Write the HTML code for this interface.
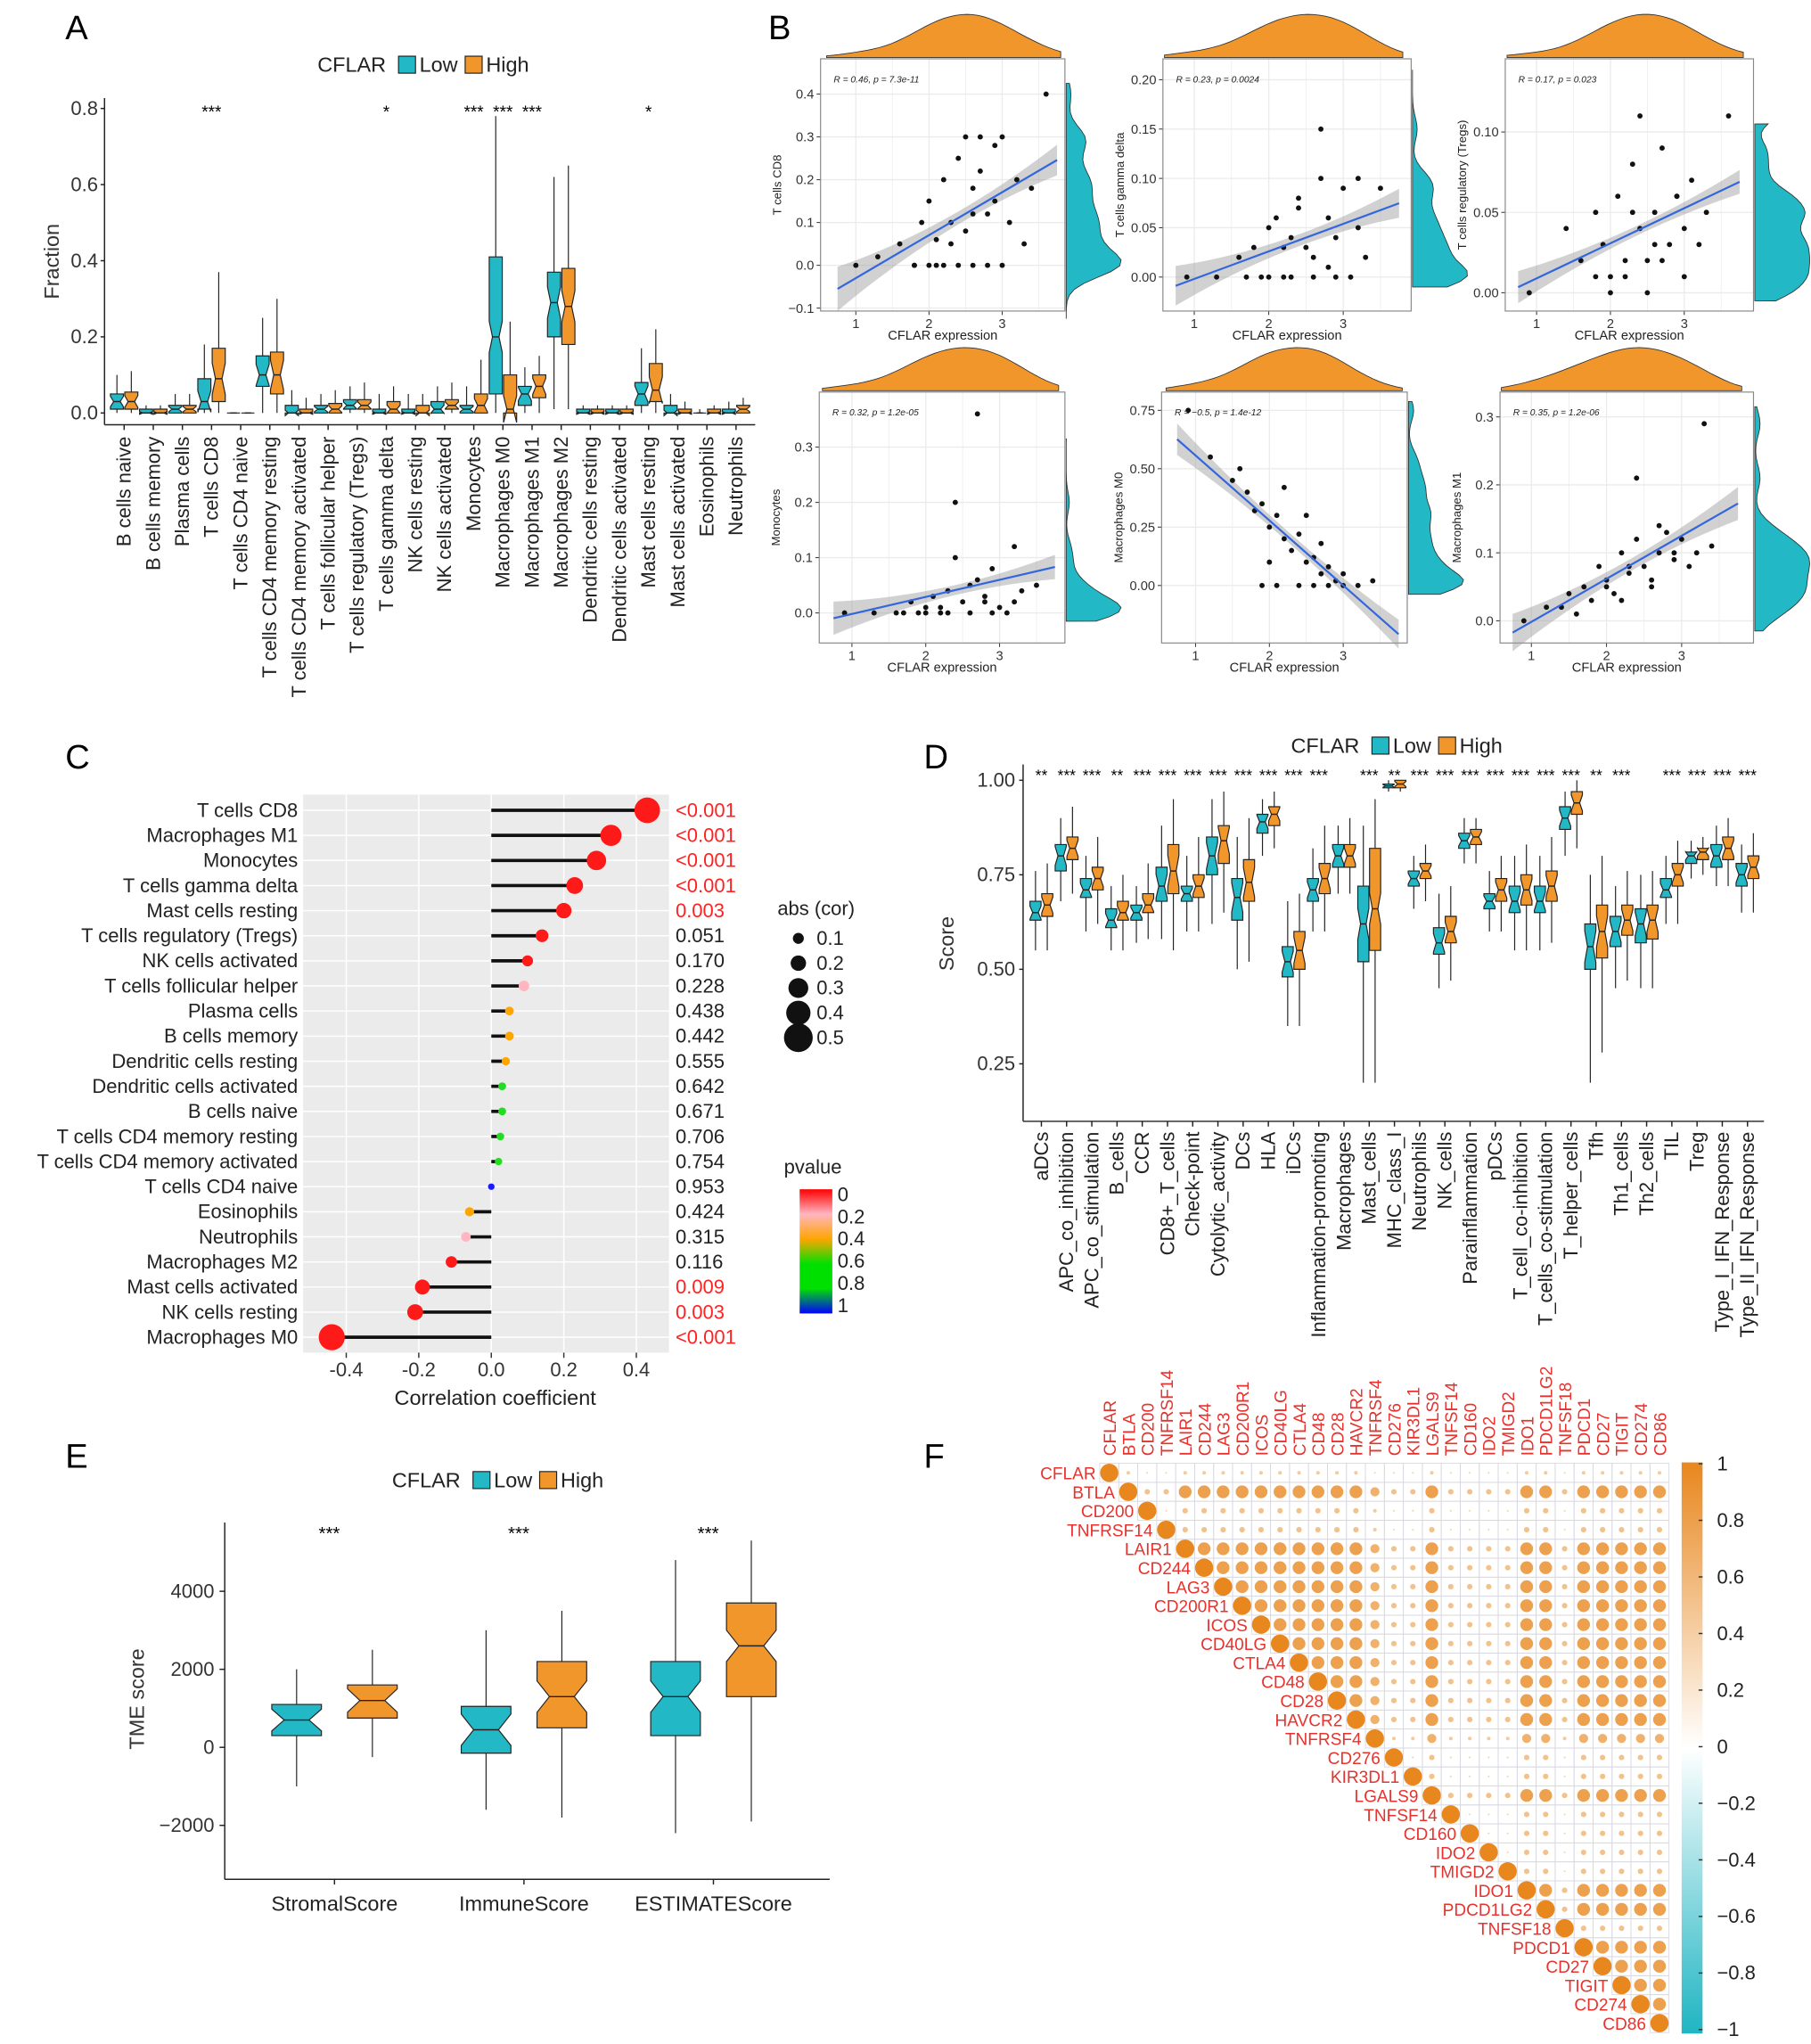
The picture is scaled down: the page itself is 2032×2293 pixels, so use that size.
<!DOCTYPE html>
<html><head><meta charset="utf-8"><style>
html,body{margin:0;padding:0;background:#fff;}
svg{display:block;font-family:"Liberation Sans",Arial,sans-serif;}
</style></head><body>
<svg id="fig" xmlns="http://www.w3.org/2000/svg" width="2032" height="2293" viewBox="0 0 1386 1564" preserveAspectRatio="none">
<defs>
<linearGradient id="pgrad" x1="0" y1="0" x2="0" y2="1">
<stop offset="0" stop-color="#ff0000"/><stop offset="0.2" stop-color="#ffb6c1"/><stop offset="0.4" stop-color="#ffa500"/><stop offset="0.6" stop-color="#00e000"/><stop offset="0.8" stop-color="#00e000"/><stop offset="1" stop-color="#0000ff"/>
</linearGradient>
<linearGradient id="cgrad" x1="0" y1="0" x2="0" y2="1">
<stop offset="0" stop-color="#e8871e"/><stop offset="0.5" stop-color="#ffffff"/><stop offset="1" stop-color="#1fb5c2"/>
</linearGradient>
</defs>
<g font-size="26">
<text x="50" y="30">A</text>
<text x="588" y="30">B</text>
<text x="50" y="588">C</text>
<text x="707" y="588">D</text>
<text x="50" y="1123">E</text>
<text x="707" y="1123">F</text>
</g>
</svg>
<script>
const NS='http://www.w3.org/2000/svg';
const svg=document.getElementById('fig');
const TEAL='#22b8c6', ORANGE='#f0962a';
function mk(tag,attrs,parent){const e=document.createElementNS(NS,tag);for(const k in attrs)e.setAttribute(k,attrs[k]);(parent||svg).appendChild(e);return e;}
function tx(x,y,s,size,anchor,parent,extra){const e=mk('text',Object.assign({x:x,y:y,'font-size':size,'text-anchor':anchor||'start'},extra||{}),parent);e.textContent=s;return e;}

// ===== Panel A data =====
const aCats=['B cells naive','B cells memory','Plasma cells','T cells CD8','T cells CD4 naive','T cells CD4 memory resting','T cells CD4 memory activated','T cells follicular helper','T cells regulatory (Tregs)','T cells gamma delta','NK cells resting','NK cells activated','Monocytes','Macrophages M0','Macrophages M1','Macrophages M2','Dendritic cells resting','Dendritic cells activated','Mast cells resting','Mast cells activated','Eosinophils','Neutrophils'];
const aLow=[[0,0.01,0.03,0.05,0.1],[0,0,0,0.01,0.02],[0,0,0.01,0.02,0.05],[0,0.01,0.03,0.09,0.18],[0,0,0,0,0],[0,0.07,0.1,0.15,0.25],[0,0,0,0.02,0.06],[0,0,0.01,0.02,0.05],[0,0.01,0.02,0.035,0.07],[0,0,0,0.01,0.05],[0,0,0,0.01,0.05],[0,0,0.01,0.03,0.07],[0,0,0.01,0.02,0.07],[0,0.05,0.2,0.41,0.78],[0,0.02,0.05,0.07,0.12],[0.01,0.2,0.29,0.37,0.62],[0,0,0,0.01,0.02],[0,0,0,0.01,0.02],[0,0.02,0.05,0.08,0.17],[0,0,0,0.02,0.05],[0,0,0,0,0.01],[0,0,0,0.01,0.03]];
const aHigh=[[0,0.01,0.03,0.055,0.11],[0,0,0,0.01,0.02],[0,0,0.01,0.02,0.05],[0,0.03,0.09,0.17,0.37],[0,0,0,0,0],[0,0.05,0.1,0.16,0.3],[0,0,0,0.01,0.04],[0,0,0.01,0.025,0.06],[0,0.01,0.02,0.035,0.08],[0,0,0.01,0.03,0.07],[0,0,0,0.02,0.05],[0,0.01,0.02,0.035,0.08],[0,0,0.02,0.05,0.14],[0,0,0.01,0.1,0.24],[0,0.04,0.07,0.1,0.15],[0.01,0.18,0.28,0.38,0.65],[0,0,0,0.01,0.02],[0,0,0,0.01,0.02],[0,0.03,0.06,0.13,0.22],[0,0,0,0.01,0.03],[0,0,0,0.01,0.02],[0,0,0.01,0.02,0.04]];
const aStars=['','','','***','','','','','','*','','','***','***','***','','','','*','','',''];
const aTicks=[0,0.2,0.4,0.6,0.8];

function notchBox(g,cx,w,s,fy,color,name){
  const [lo,q1,med,q3,hi]=s;
  const y1=fy(q1),y3=fy(q3),ym=fy(med),ylo=fy(lo),yhi=fy(hi);
  const wl=mk('line',{x1:cx,x2:cx,y1:ylo,y2:yhi,stroke:'#222','stroke-width':0.8},g);
  
  
  const n=Math.min(Math.abs(y1-y3)*0.35,12);
  const L=cx-w/2,R=cx+w/2,Li=cx-w/4,Ri=cx+w/4;
  const pts=[[L,y3],[R,y3],[R,ym-n],[Ri,ym],[R,ym+n],[R,y1],[L,y1],[L,ym+n],[Li,ym],[L,ym-n]].map(p=>p.join(',')).join(' ');
  const p=mk('polygon',{points:pts,fill:color,stroke:'#222','stroke-width':0.8},g);
  
  
  const m=mk('line',{x1:Li,x2:Ri,y1:ym,y2:ym,stroke:'#222','stroke-width':1},g);
  
  
}
function legendCF(x,y,g){
  tx(x,y,'CFLAR',16,'start',g,{fill:'#222'});
  const b1=mk('rect',{x:x+62,y:y-12,width:13,height:13,fill:TEAL,stroke:'#222','stroke-width':0.8},g);
  
  
  tx(x+78,y,'Low',16,'start',g,{fill:'#222'});
  const b2=mk('rect',{x:x+113,y:y-12,width:13,height:13,fill:ORANGE,stroke:'#222','stroke-width':0.8},g);
  
  
  tx(x+129,y,'High',16,'start',g,{fill:'#222'});
}
(function(){
  const g=mk('g',{});
  
  
  const fy=v=>316-v*291.25, fx=i=>95+i*22.3;
  mk('line',{x1:80,x2:80,y1:75,y2:325,stroke:'#222','stroke-width':1},g);
  mk('line',{x1:80,x2:578,y1:325,y2:325,stroke:'#222','stroke-width':1},g);
  aTicks.forEach(t=>{mk('line',{x1:77,x2:80,y1:fy(t),y2:fy(t),stroke:'#222'},g);tx(75,fy(t)+5,t.toFixed(1),15,'end',g,{fill:'#333'});});
  tx(45,200,'Fraction',16,'middle',g,{transform:'rotate(-90 45 200)',fill:'#333'});
  legendCF(243,55,g);
  aCats.forEach((c,i)=>{
    const cx=fx(i);
    notchBox(g,cx-5.5,10,aLow[i],fy,TEAL,'box-low-'+i);
    notchBox(g,cx+5.5,10,aHigh[i],fy,ORANGE,'box-high-'+i);
    mk('line',{x1:cx,x2:cx,y1:325,y2:329,stroke:'#222'},g);
    tx(cx+5,334,c,15,'end',g,{transform:`rotate(-90 ${cx+5} 334)`,fill:'#222'});
    if(aStars[i])tx(cx,90,aStars[i],13,'middle',g);
  });
})();

// ===== Panel B data =====
const b1x=[1.0,1.3,1.6,1.8,1.9,2.0,2.1,2.2,2.3,2.4,2.5,2.6,2.7,2.8,2.9,3.0,3.1,3.2,3.4,3.6,1.8,2.0,2.2,2.4,2.6,2.8,3.0,2.3,2.5,2.7,2.9,3.3,2.1,2.6];
const b1y=[0.0,0.02,0.05,0.0,0.1,0.15,0.0,0.2,0.1,0.25,0.3,0.18,0.22,0.12,0.28,0.3,0.1,0.2,0.18,0.4,0.0,0.0,0.0,0.0,0.0,0.0,0.0,0.05,0.08,0.3,0.15,0.05,0.06,0.12];
const b2x=[0.9,1.3,1.6,1.8,1.9,2.0,2.1,2.2,2.3,2.4,2.5,2.6,2.7,2.8,2.9,3.0,3.2,3.3,3.5,1.7,2.0,2.3,2.6,2.9,3.1,2.4,2.7,3.2,2.2,2.8];
const b2y=[0.0,0.0,0.02,0.03,0.0,0.05,0.06,0.0,0.04,0.08,0.03,0.02,0.1,0.06,0.04,0.09,0.1,0.02,0.09,0.0,0.0,0.0,0.0,0.0,0.0,0.07,0.15,0.05,0.03,0.01];
const b3x=[0.9,1.4,1.6,1.8,1.9,2.0,2.1,2.2,2.3,2.4,2.5,2.6,2.7,2.8,2.9,3.0,3.1,3.3,3.6,2.0,2.2,2.5,2.7,3.0,2.4,2.6,2.9,1.8,2.3,3.2];
const b3y=[0.0,0.04,0.02,0.05,0.03,0.01,0.06,0.02,0.08,0.04,0.02,0.05,0.09,0.03,0.06,0.04,0.07,0.05,0.11,0.0,0.01,0.0,0.02,0.01,0.11,0.03,0.06,0.01,0.05,0.03];
const b4x=[0.9,1.3,1.6,1.8,1.9,2.0,2.1,2.2,2.3,2.4,2.5,2.6,2.7,2.8,2.9,3.0,3.2,3.3,3.5,1.7,2.0,2.3,2.6,2.9,3.1,2.4,2.7,3.2,2.2,2.8];
const b4y=[0.0,0.0,0.0,0.02,0.0,0.01,0.03,0.0,0.04,0.1,0.02,0.05,0.06,0.03,0.08,0.01,0.02,0.04,0.05,0.0,0.0,0.0,0.0,0.0,0.0,0.2,0.36,0.12,0.01,0.02];
const b5x=[0.9,1.2,1.5,1.7,1.8,1.9,2.0,2.1,2.2,2.3,2.4,2.5,2.6,2.7,2.8,2.9,3.0,3.2,3.4,1.9,2.1,2.4,2.6,2.8,3.0,2.2,2.5,1.6,2.0,2.7];
const b5y=[0.75,0.55,0.45,0.4,0.32,0.35,0.25,0.3,0.2,0.15,0.22,0.1,0.12,0.05,0.08,0.02,0.05,0.0,0.02,0.0,0.0,0.0,0.0,0.0,0.0,0.42,0.3,0.5,0.1,0.18];
const b6x=[0.9,1.2,1.5,1.7,1.8,1.9,2.0,2.1,2.2,2.3,2.4,2.5,2.6,2.7,2.8,2.9,3.0,3.2,3.4,1.6,2.0,2.3,2.6,2.9,3.1,2.4,2.7,2.2,1.4,3.3];
const b6y=[0.0,0.02,0.04,0.05,0.03,0.08,0.06,0.04,0.1,0.07,0.12,0.08,0.05,0.1,0.13,0.09,0.12,0.1,0.11,0.01,0.05,0.08,0.06,0.1,0.08,0.21,0.14,0.03,0.02,0.29];
const bYTicks=[[-0.1,0,0.1,0.2,0.3,0.4],[0,0.05,0.1,0.15,0.2],[0,0.05,0.1],[0,0.1,0.2,0.3],[0,0.25,0.5,0.75],[0,0.1,0.2,0.3]];
const bYDigits=[1,2,2,1,2,1];
const bYLabels=['T cells CD8','T cells gamma delta','T cells regulatory (Tregs)','Monocytes','Macrophages M0','Macrophages M1'];
const bStats=['R = 0.46, p = 7.3e-11','R = 0.23, p = 0.0024','R = 0.17, p = 0.023','R = 0.32, p = 1.2e-05','R = \u22120.5, p = 1.4e-12','R = 0.35, p = 1.2e-06'];
const bXs=[b1x,b2x,b3x,b4x,b5x,b6x], bYs=[b1y,b2y,b3y,b4y,b5y,b6y];
const bLay=[{L:628,R:815,T:45,B:238,X1:655,ux:56,Y0:203,uy:327.5},{L:890,R:1080,T:45,B:238,X1:914,ux:57,Y0:212,uy:755},{L:1152,R:1342,T:45,B:238,X1:1176,ux:56.5,Y0:224,uy:1230},{L:627,R:815,T:300,B:492,X1:652,ux:56.5,Y0:469,uy:423},{L:889,R:1077,T:300,B:492,X1:915,ux:56.5,Y0:448,uy:178.7},{L:1148,R:1342,T:300,B:492,X1:1172,ux:57.5,Y0:475,uy:520}];
function kde(arr,lo,hi,bw,n){const out=[];for(let k=0;k<=n;k++){const v=lo+(hi-lo)*k/n;let s=0;arr.forEach(a=>{s+=Math.exp(-0.5*((v-a)/bw)**2);});out.push([v,s]);}return out;}
bLay.forEach((P,pi)=>{
  const g=mk('g',{});
  
  
  const xs=bXs[pi],ys=bYs[pi];
  const fx=v=>P.X1+(v-1)*P.ux, fy=v=>P.Y0-v*P.uy;
  mk('rect',{x:P.L,y:P.T,width:P.R-P.L,height:P.B-P.T,fill:'#fff'},g);
  [1,1.5,2,2.5,3,3.5].forEach(t=>{const x=fx(t);if(x>P.L&&x<P.R)mk('line',{x1:x,x2:x,y1:P.T,y2:P.B,stroke:'#ebebeb','stroke-width':t%1?0.5:0.9},g);});
  const yt=bYTicks[pi];
  yt.forEach(t=>{const y=fy(t);mk('line',{x1:P.L,x2:P.R,y1:y,y2:y,stroke:'#ebebeb','stroke-width':0.9},g);
    mk('line',{x1:P.L-3,x2:P.L,y1:y,y2:y,stroke:'#333','stroke-width':0.7},g);
    tx(P.L-5,y+3.5,(t<0?'\u2212':'')+Math.abs(t).toFixed(bYDigits[pi]),10,'end',g,{fill:'#333'});});
  [1,2,3].forEach(t=>{const x=fx(t);mk('line',{x1:x,x2:x,y1:P.B,y2:P.B+3,stroke:'#333','stroke-width':0.7},g);tx(x,P.B+13,String(t),10,'middle',g,{fill:'#333'});});
  mk('rect',{x:P.L,y:P.T,width:P.R-P.L,height:P.B-P.T,fill:'none',stroke:'#888','stroke-width':0.8},g);
  const n=xs.length,mx=xs.reduce((a,b)=>a+b)/n,my=ys.reduce((a,b)=>a+b)/n;
  let sxy=0,sxx=0;xs.forEach((x,i)=>{sxy+=(x-mx)*(ys[i]-my);sxx+=(x-mx)**2;});
  const sl=sxy/sxx,ic=my-sl*mx;
  const xa=0.75,xb=3.75;
  const yrng=(yt[yt.length-1]-yt[0]);
  const band=[];for(let k=0;k<=20;k++){const x=xa+(xb-xa)*k/20;const w=yrng*0.03*(1+1.2*((x-mx)/1.2)**2);band.push([fx(x),fy(ic+sl*x+w)]);}
  for(let k=20;k>=0;k--){const x=xa+(xb-xa)*k/20;const w=yrng*0.03*(1+1.2*((x-mx)/1.2)**2);band.push([fx(x),fy(ic+sl*x-w)]);}
  const bd=mk('polygon',{points:band.map(p=>p.join(',')).join(' '),fill:'#999','fill-opacity':0.45},g);
  
  
  xs.forEach((x,i)=>{const c=mk('circle',{cx:fx(x),cy:fy(ys[i]),r:2,fill:'#111'},g);
    
    });
  const rl=mk('line',{x1:fx(xa),y1:fy(ic+sl*xa),x2:fx(xb),y2:fy(ic+sl*xb),stroke:'#3366dd','stroke-width':1.5},g);
  
  
  const dx=kde(xs,0.6,3.8,0.35,40);const mxd=Math.max(...dx.map(d=>d[1]));
  let dp='M'+fx(0.6)+','+(P.T-1);dx.forEach(d=>{dp+=' L'+fx(d[0]).toFixed(1)+','+(P.T-1-d[1]/mxd*33).toFixed(1);});dp+=' L'+fx(3.8)+','+(P.T-1)+'Z';
  const td=mk('path',{d:dp,fill:ORANGE,stroke:'#333','stroke-width':0.6},g);
  
  
  const y0=yt[0],y1=yt[yt.length-1];
  const dy=kde(ys,y0-yrng*0.05,y1+yrng*0.05,yrng*0.06,40);const myd=Math.max(...dy.map(d=>d[1]));
  let rp='M'+(P.R+1)+','+fy(dy[0][0]);dy.forEach(d=>{rp+=' L'+(P.R+1+d[1]/myd*42).toFixed(1)+','+fy(d[0]).toFixed(1);});rp+=' L'+(P.R+1)+','+fy(dy[dy.length-1][0])+'Z';
  const rd=mk('path',{d:rp,fill:TEAL,stroke:'#333','stroke-width':0.6},g);
  
  
  tx(P.L+10,P.T+18,bStats[pi],7,'start',g,{'font-style':'italic',fill:'#222'});
  tx((P.L+P.R)/2,P.B+22,'CFLAR expression',10,'middle',g,{fill:'#222'});
  const lx=P.L-30,ly=(P.T+P.B)/2;
  tx(lx,ly,bYLabels[pi],9,'middle',g,{transform:`rotate(-90 ${lx} ${ly})`,fill:'#222'});
});

// ===== Panel C data =====
const cCats=['T cells CD8','Macrophages M1','Monocytes','T cells gamma delta','Mast cells resting','T cells regulatory (Tregs)','NK cells activated','T cells follicular helper','Plasma cells','B cells memory','Dendritic cells resting','Dendritic cells activated','B cells naive','T cells CD4 memory resting','T cells CD4 memory activated','T cells CD4 naive','Eosinophils','Neutrophils','Macrophages M2','Mast cells activated','NK cells resting','Macrophages M0'];
const cCor=[0.43,0.33,0.29,0.23,0.2,0.14,0.1,0.09,0.05,0.05,0.04,0.03,0.03,0.025,0.02,0.0,-0.06,-0.07,-0.11,-0.19,-0.21,-0.44];
const cP=[0.0005,0.0005,0.0005,0.0005,0.003,0.051,0.170,0.228,0.438,0.442,0.555,0.642,0.671,0.706,0.754,0.953,0.424,0.315,0.116,0.009,0.003,0.0005];
const cPText=['<0.001','<0.001','<0.001','<0.001','0.003','0.051','0.170','0.228','0.438','0.442','0.555','0.642','0.671','0.706','0.754','0.953','0.424','0.315','0.116','0.009','0.003','<0.001'];
const cXTicks=[-0.4,-0.2,0,0.2,0.4];
function pColor(p){return p<0.2?'#ff1a1a':p<0.35?'#ffb6c1':p<0.6?'#ffa500':p<0.85?'#22dd22':'#1a1aff';}
(function(){
  const g=mk('g',{});
  
  
  const fx=v=>376+v*277.5, fy=i=>620+i*19.2;
  mk('rect',{x:232,y:608,width:280,height:427,fill:'#ebebeb'},g);
  cXTicks.forEach(t=>{mk('line',{x1:fx(t),x2:fx(t),y1:608,y2:1035,stroke:'#fff','stroke-width':1},g);
    mk('line',{x1:fx(t),x2:fx(t),y1:1035,y2:1039,stroke:'#333'},g);
    tx(fx(t),1053,t.toFixed(1),15,'middle',g,{fill:'#333'});});
  tx(379,1075,'Correlation coefficient',16,'middle',g,{fill:'#222'});
  cCats.forEach((c,i)=>{
    const y=fy(i);
    mk('line',{x1:232,x2:512,y1:y,y2:y,stroke:'#fff','stroke-width':1},g);
    tx(228,y+5,c,15,'end',g,{fill:'#222'});
    const st=mk('line',{x1:fx(0),x2:fx(cCor[i]),y1:y,y2:y,stroke:'#111','stroke-width':2.5},g);
    
    
    const d=mk('circle',{cx:fx(cCor[i]),cy:y,r:2.5+Math.abs(cCor[i])*17,fill:pColor(cP[i])},g);
    
    
    tx(517,y+5,cPText[i],15,'start',g,{fill:cP[i]<0.05?'#ff2222':'#222'});
  });
  tx(595,700,'abs (cor)',15,'start',g,{fill:'#222'});
  [0.1,0.2,0.3,0.4,0.5].forEach((v,k)=>{const y=718+k*19;mk('circle',{cx:611,cy:y,r:2.5+v*17,fill:'#111'},g);tx(625,y+5,String(v),15,'start',g,{fill:'#222'});});
  tx(600,898,'pvalue',15,'start',g,{fill:'#222'});
  mk('rect',{x:612,y:910,width:25,height:95,fill:'url(#pgrad)'},g);
  ['0','0.2','0.4','0.6','0.8','1'].forEach((s,k)=>tx(641,919+k*17,s,15,'start',g,{fill:'#222'}));
})();

// ===== Panel D data =====
const dCats=['aDCs','APC_co_inhibition','APC_co_stimulation','B_cells','CCR','CD8+_T_cells','Check-point','Cytolytic_activity','DCs','HLA','iDCs','Inflammation-promoting','Macrophages','Mast_cells','MHC_class_I','Neutrophils','NK_cells','Parainflammation','pDCs','T_cell_co-inhibition','T_cells_co-stimulation','T_helper_cells','Tfh','Th1_cells','Th2_cells','TIL','Treg','Type_I_IFN_Response','Type_II_IFN_Response'];
const dLow=[[0.55,0.63,0.65,0.68,0.76],[0.68,0.76,0.8,0.83,0.9],[0.6,0.69,0.71,0.74,0.8],[0.55,0.61,0.63,0.66,0.72],[0.57,0.63,0.65,0.67,0.72],[0.58,0.68,0.72,0.77,0.88],[0.6,0.68,0.7,0.72,0.8],[0.62,0.75,0.8,0.85,0.95],[0.5,0.63,0.69,0.74,0.85],[0.8,0.86,0.89,0.91,0.95],[0.35,0.48,0.52,0.56,0.68],[0.6,0.68,0.71,0.74,0.82],[0.7,0.77,0.8,0.83,0.88],[0.2,0.52,0.62,0.72,0.88],[0.97,0.98,0.985,0.99,1.0],[0.66,0.72,0.74,0.76,0.8],[0.45,0.54,0.57,0.61,0.7],[0.78,0.82,0.84,0.86,0.9],[0.6,0.66,0.68,0.7,0.76],[0.55,0.65,0.68,0.72,0.8],[0.55,0.65,0.68,0.72,0.8],[0.8,0.87,0.9,0.93,0.97],[0.2,0.5,0.56,0.62,0.75],[0.45,0.56,0.6,0.64,0.72],[0.45,0.57,0.62,0.66,0.75],[0.62,0.69,0.71,0.74,0.8],[0.74,0.78,0.8,0.81,0.84],[0.72,0.77,0.8,0.83,0.88],[0.65,0.72,0.75,0.78,0.83]];
const dHigh=[[0.55,0.64,0.67,0.7,0.78],[0.7,0.79,0.82,0.85,0.93],[0.62,0.71,0.74,0.77,0.85],[0.55,0.63,0.65,0.68,0.75],[0.58,0.65,0.67,0.7,0.78],[0.55,0.7,0.76,0.83,0.95],[0.6,0.69,0.72,0.75,0.85],[0.65,0.78,0.84,0.88,0.97],[0.52,0.68,0.73,0.79,0.9],[0.82,0.88,0.91,0.93,0.97],[0.35,0.5,0.55,0.6,0.7],[0.6,0.7,0.74,0.78,0.88],[0.7,0.77,0.8,0.83,0.9],[0.2,0.55,0.66,0.82,0.95],[0.97,0.98,0.99,1.0,1.0],[0.68,0.74,0.76,0.78,0.83],[0.47,0.57,0.6,0.64,0.72],[0.78,0.83,0.85,0.87,0.9],[0.6,0.68,0.71,0.74,0.8],[0.55,0.67,0.71,0.75,0.83],[0.57,0.68,0.72,0.76,0.85],[0.82,0.91,0.94,0.97,1.0],[0.28,0.53,0.6,0.67,0.8],[0.47,0.59,0.63,0.67,0.76],[0.45,0.58,0.63,0.67,0.76],[0.62,0.72,0.75,0.78,0.84],[0.75,0.79,0.81,0.82,0.85],[0.72,0.79,0.82,0.85,0.9],[0.65,0.74,0.77,0.8,0.86]];
const dStars=['**','***','***','**','***','***','***','***','***','***','***','***','','***','**','***','***','***','***','***','***','***','**','***','','***','***','***','***'];
const dTicks=[0.25,0.5,0.75,1.0];
(function(){
  const g=mk('g',{});
  
  
  const fy=v=>814-(v-0.25)*289.3, fx=i=>797+i*19.3;
  mk('line',{x1:783,x2:783,y1:585,y2:858,stroke:'#222'},g);
  mk('line',{x1:783,x2:1350,y1:858,y2:858,stroke:'#222'},g);
  dTicks.forEach(t=>{mk('line',{x1:780,x2:783,y1:fy(t),y2:fy(t),stroke:'#222'},g);tx(777,fy(t)+5,t.toFixed(2),15,'end',g,{fill:'#333'});});
  tx(730,722,'Score',16,'middle',g,{transform:'rotate(-90 730 722)',fill:'#333'});
  legendCF(988,576,g);
  dCats.forEach((c,i)=>{
    const cx=fx(i);
    notchBox(g,cx-4.5,8.5,dLow[i],fy,TEAL,'box-low-'+i);
    notchBox(g,cx+4.5,8.5,dHigh[i],fy,ORANGE,'box-high-'+i);
    mk('line',{x1:cx,x2:cx,y1:858,y2:862,stroke:'#222'},g);
    tx(cx+5,866,c,15,'end',g,{transform:`rotate(-90 ${cx+5} 866)`,fill:'#222'});
    if(dStars[i])tx(cx,597,dStars[i],12,'middle',g);
  });
})();

// ===== Panel E data =====
const eCats=['StromalScore','ImmuneScore','ESTIMATEScore'];
const eLow=[[-1000,300,700,1100,2000],[-1600,-150,450,1050,3000],[-2200,300,1300,2200,4800]];
const eHigh=[[-250,750,1200,1600,2500],[-1800,500,1300,2200,3500],[-1900,1300,2600,3700,5300]];
const eTicks=[-2000,0,2000,4000];
(function(){
  const g=mk('g',{});
  
  
  const fy=v=>1337-v*0.02985, fx=i=>256+i*145;
  mk('line',{x1:172,x2:172,y1:1165,y2:1438,stroke:'#222'},g);
  mk('line',{x1:172,x2:635,y1:1438,y2:1438,stroke:'#222'},g);
  eTicks.forEach(t=>{mk('line',{x1:168,x2:172,y1:fy(t),y2:fy(t),stroke:'#222'},g);tx(164,fy(t)+5,(t<0?'\u2212':'')+Math.abs(t),15,'end',g,{fill:'#333'});});
  tx(110,1300,'TME score',16,'middle',g,{transform:'rotate(-90 110 1300)',fill:'#333'});
  legendCF(300,1138,g);
  eCats.forEach((c,i)=>{
    const cx=fx(i);
    notchBox(g,cx-29,38,eLow[i],fy,TEAL,'box-low-'+i);
    notchBox(g,cx+29,38,eHigh[i],fy,ORANGE,'box-high-'+i);
    mk('line',{x1:cx,x2:cx,y1:1438,y2:1442,stroke:'#222'},g);
    tx(cx,1462,c,16,'middle',g,{fill:'#222'});
    tx(cx-4,1178,'***',14,'middle',g);
  });
})();

// ===== Panel F data =====
const fGenes=['CFLAR','BTLA','CD200','TNFRSF14','LAIR1','CD244','LAG3','CD200R1','ICOS','CD40LG','CTLA4','CD48','CD28','HAVCR2','TNFRSF4','CD276','KIR3DL1','LGALS9','TNFSF14','CD160','IDO2','TMIGD2','IDO1','PDCD1LG2','TNFSF18','PDCD1','CD27','TIGIT','CD274','CD86'];
const fRows=['21122222222221112111122122222','3377777777775337333377377777','133333333332113111133133333','33333333332113111133133333','7777777775337333377377777','777777775337333377377777','77777775337333377377777','7777775337333377377777','777775337333377377777','77775337333377377777','7775337333377377777','775337333377377777','75337333377377777','5337333377377777','225222255255555','13111133133333','3111133133333','333377377777','11133133333','1133133333','133133333','33133333','7377777','377777','33333','7777','777','77','7',''];
const fTicks=[1,0.8,0.6,0.4,0.2,0,-0.2,-0.4,-0.6,-0.8,-1];
(function(){
  const g=mk('g',{});
  
  
  const s=14.52,x0=841.7,y0=1119.7,n=fGenes.length;
  function orange(r){const a=Math.min(1,Math.abs(r));const c1=[255,255,255],c2=[232,135,30];return 'rgb('+c1.map((c,k)=>Math.round(c+(c2[k]-c)*(0.3+0.7*a))).join(',')+')';}
  for(let i=0;i<n;i++){
    for(let j=i;j<n;j++){
      mk('rect',{x:x0+j*s,y:y0+i*s,width:s,height:s,fill:'none',stroke:'#d8d8e0','stroke-width':0.6},g);
      const r=(j===i)?1:(parseInt(fRows[i][j-i-1]||'0')/10);
      const c=mk('circle',{cx:x0+j*s+s/2,cy:y0+i*s+s/2,r:7*r,fill:orange(r)},g);
      
      
    }
    const yc=y0+i*s+s/2;
    tx(x0+i*s-3,yc+5,fGenes[i],13,'end',g,{fill:'#e8322d'});
    const xc=x0+i*s+s/2+5;
    tx(xc,1114,fGenes[i],13,'start',g,{transform:`rotate(-90 ${xc} 1114)`,fill:'#e8322d'});
  }
  mk('rect',{x:1287,y:1119,width:16,height:437,fill:'url(#cgrad)'},g);
  fTicks.forEach(t=>{const y=1120+(1-t)/2*433;mk('line',{x1:1300,x2:1303,y1:y,y2:y,stroke:'#333'},g);tx(1314,y+5,(t<0?'\u2212':'')+Math.abs(t),15,'start',g,{fill:'#222'});});
})();
</script>
</body></html>
